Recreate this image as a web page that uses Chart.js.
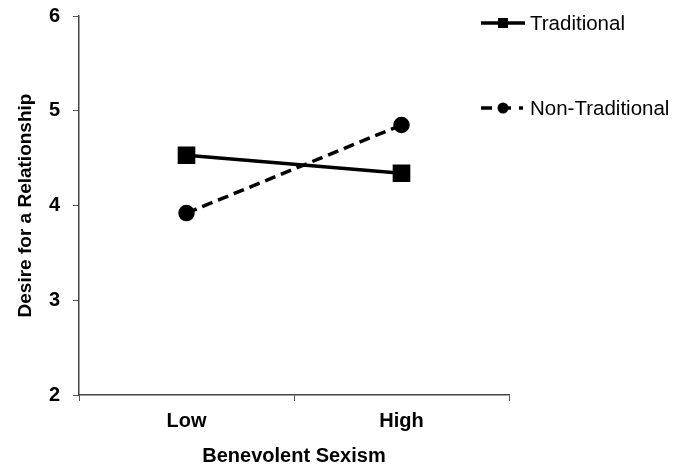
<!DOCTYPE html>
<html>
<head>
<meta charset="utf-8">
<script src="https://cdn.jsdelivr.net/npm/chart.js@4"></script>
<style>
  html, body { margin: 0; padding: 0; background: #fff; }
  #wrap { width: 686px; height: 472px; position: relative; }
</style>
</head>
<body>
<div id="wrap"><canvas id="chart"></canvas></div>
<script>
const categories = ['Low', 'High'];
const traditional = [4.53, 4.34];
const nonTraditional = [3.92, 4.85];
const seriesNames = ['Traditional', 'Non-Traditional'];
const yTicks = [2, 3, 4, 5, 6];

const FONT = '"Liberation Sans", Arial, Helvetica, sans-serif';

// legend drawn at top right, outside the plot
const sideLegend = {
    id: 'sideLegend',
    afterDraw(chart) {
        const ctx = chart.ctx;
        const rows = [23, 108];
        chart.data.datasets.forEach((ds, i) => {
            const y = rows[i];
            ctx.save();
            ctx.strokeStyle = '#000';
            ctx.lineWidth = 3.5;
            if (ds.borderDash) ctx.setLineDash([11, 8, 11, 8, 4, 100]);
            ctx.beginPath();
            ctx.moveTo(481, y);
            ctx.lineTo(525, y);
            ctx.stroke();
            ctx.setLineDash([]);
            ctx.fillStyle = '#000';
            if (ds.pointStyle === 'rect') ctx.fillRect(498, y - 5, 10, 10);
            else { ctx.beginPath(); ctx.arc(503, y, 5.5, 0, Math.PI * 2); ctx.fill(); }
            ctx.font = '20.5px ' + FONT;
            ctx.textBaseline = 'middle';
            ctx.fillText(ds.label, 530, y + 1);
            ctx.restore();
        });
    }
};

new Chart(document.getElementById('chart'), {
    type: 'line',
    data: {
        labels: categories,
        datasets: [
            {
                label: seriesNames[0],
                data: traditional,
                borderColor: '#000',
                backgroundColor: '#000',
                borderWidth: 3.5,
                pointStyle: 'rect',
                pointRadius: 10,
                pointHoverRadius: 10
            },
            {
                label: seriesNames[1],
                data: nonTraditional,
                borderColor: '#000',
                backgroundColor: '#000',
                borderWidth: 3.5,
                borderDash: [11, 6],
                pointStyle: 'circle',
                pointRadius: 6.5,
                pointHoverRadius: 6.5
            }
        ]
    },
    options: {
        responsive: true,
        maintainAspectRatio: false,
        animation: false,
        layout: { padding: { top: 16, right: 177, left: 0, bottom: 0 } },
        plugins: { legend: { display: false }, tooltip: { enabled: false } },
        scales: {
            x: {
                offset: true,
                grid: { offset: true, drawOnChartArea: false, tickLength: 6, color: '#555', tickColor: '#555' },
                border: { color: '#444', width: 1.5 },
                ticks: { color: '#000', padding: 8, font: { family: FONT, size: 20, weight: 'bold' } },
                title: { display: true, text: 'Benevolent Sexism', color: '#000', padding: { top: 0, bottom: 4 },
                         font: { family: FONT, size: 20, weight: 'bold' } },
                afterFit(scale) { scale.height = 77; }
            },
            y: {
                min: 2,
                max: 6,
                afterBuildTicks(scale) { scale.ticks = yTicks.map(v => ({ value: v })); },
                grid: { drawOnChartArea: false, tickLength: 6, color: '#555', tickColor: '#555' },
                border: { color: '#444', width: 1.5 },
                ticks: { color: '#000', padding: 13, font: { family: FONT, size: 20, weight: 'bold' } },
                title: { display: true, text: 'Desire for a Relationship', color: '#000', padding: { top: 14, bottom: 0 },
                         font: { family: FONT, size: 19, weight: 'bold' } },
                afterFit(scale) { scale.width = 79; scale.paddingTop = 0; scale.paddingBottom = 0; }
            }
        }
    },
    plugins: [sideLegend]
});
</script>
</body>
</html>
